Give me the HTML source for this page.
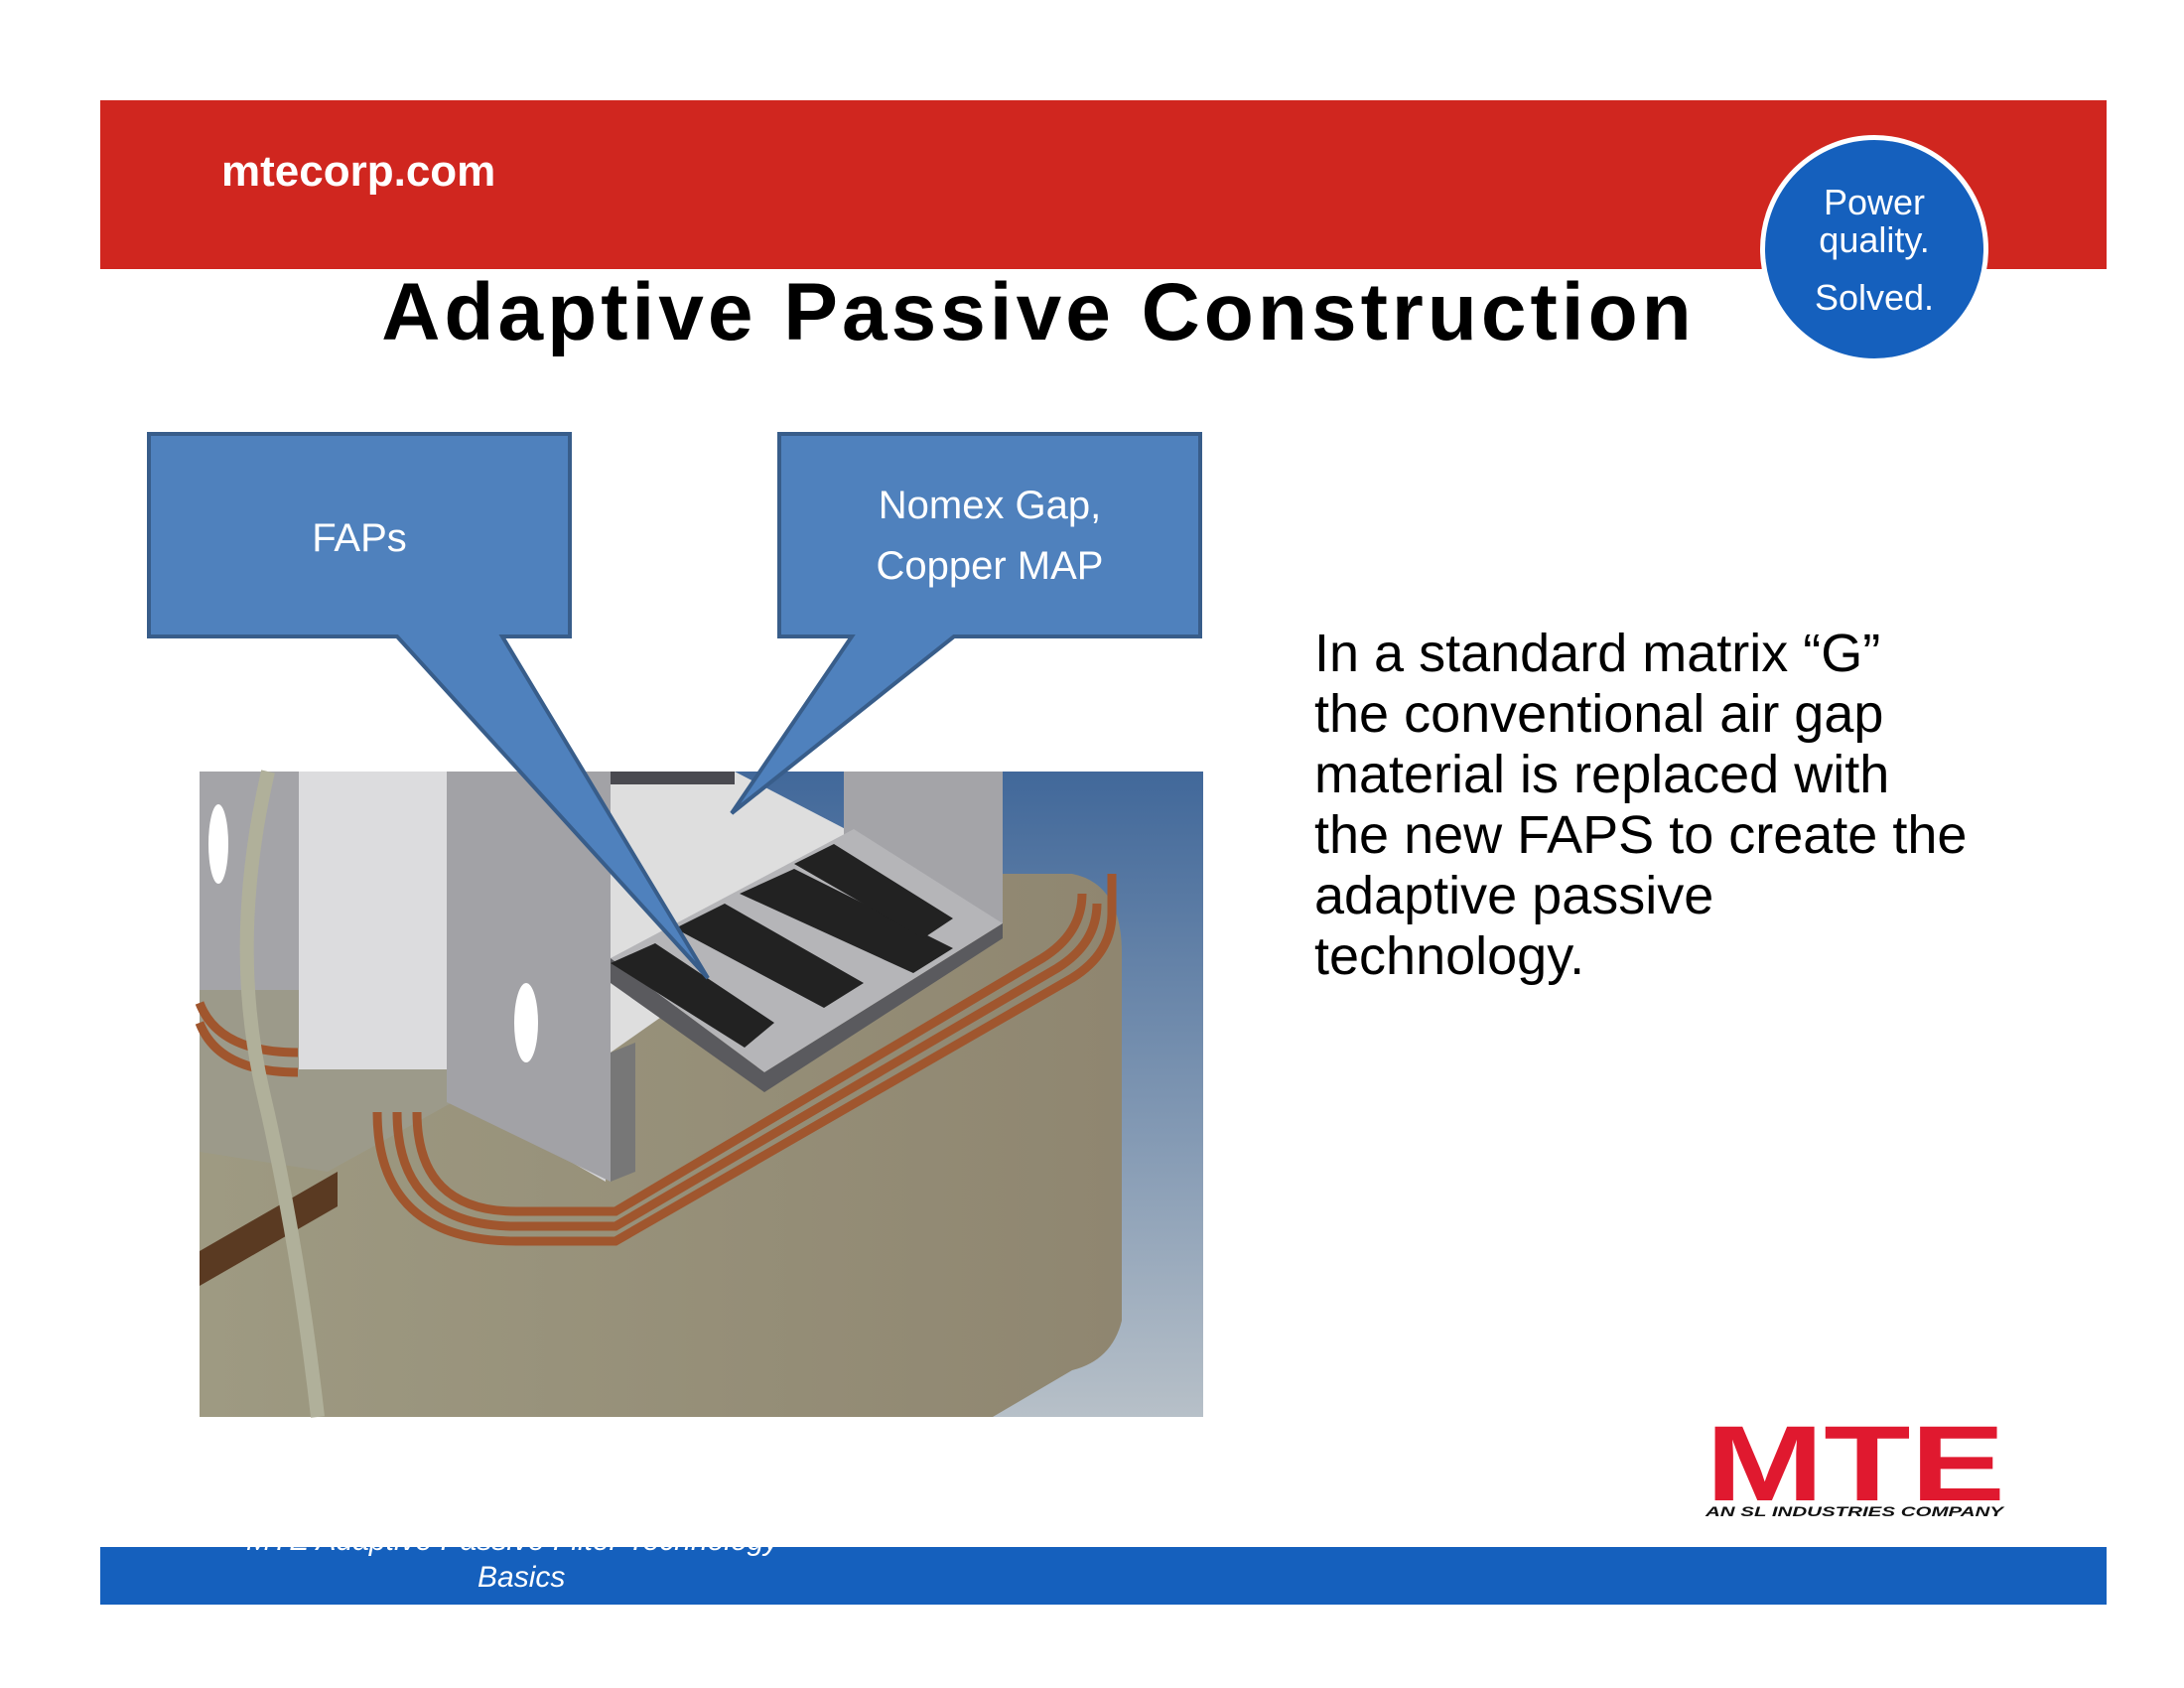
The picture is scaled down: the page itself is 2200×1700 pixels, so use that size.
<!DOCTYPE html>
<html><head><meta charset="utf-8"><style>
html,body{margin:0;padding:0;background:#fff;}
body{width:2200px;height:1700px;position:relative;overflow:hidden;font-family:"Liberation Sans",sans-serif;}
.red{position:absolute;left:101px;top:101px;width:2021px;height:170px;background:#d0261f;}
.url{position:absolute;left:223px;top:148px;color:#fff;font-weight:bold;font-size:44px;}
.circ{position:absolute;left:1773px;top:136px;width:230px;height:230px;border-radius:50%;background:#1560bd;border:5px solid #fff;box-sizing:border-box;color:#fff;text-align:center;font-size:36px;line-height:38px;}
.title{position:absolute;left:-10px;width:2112px;top:268px;text-align:center;font-weight:900;font-size:82px;letter-spacing:4px;color:#000;}
.body{position:absolute;left:1324px;top:628px;font-size:54px;line-height:61px;color:#000;}
.blue{position:absolute;left:101px;top:1558px;width:2021px;height:58px;background:#1560bd;overflow:hidden;}
.ft{position:absolute;color:#fff;font-style:italic;font-size:30px;}
</style></head><body>
<div class="red"></div>
<div class="url">mtecorp.com</div>
<div class="circ"><div style="padding-top:44px">Power<br>quality.</div><div style="margin-top:20px">Solved.</div></div>
<div class="title">Adaptive Passive Construction</div>

<svg style="position:absolute;left:0;top:0" width="2200" height="1700">
<defs>
<linearGradient id="bg" x1="0" y1="0" x2="0" y2="1"><stop offset="0" stop-color="#41689a"/><stop offset="1" stop-color="#b7c0c8"/></linearGradient>
<linearGradient id="core" x1="0" y1="0" x2="1" y2="0"><stop offset="0" stop-color="#9e9a82"/><stop offset="1" stop-color="#8f8670"/></linearGradient>
</defs>
<rect x="201" y="777" width="1011" height="650" fill="url(#bg)"/>
<rect x="201" y="777" width="420" height="650" fill="#9c9a8a"/>
<path d="M330 1180 L870 880 L1080 880 Q1130 890 1130 960 L1130 1330 Q1120 1370 1080 1380 L1000 1427 L201 1427 L201 1160 Z" fill="url(#core)"/>
<path d="M201 1260 L340 1180 L340 1215 L201 1295 Z" fill="#5a3a22"/>
<g fill="none" stroke="#a0562e" stroke-width="9">
<path d="M380 1120 Q380 1250 520 1250 L620 1250 L1080 985 Q1120 960 1120 920 L1120 880"/>
<path d="M400 1120 Q400 1235 520 1235 L620 1235 L1065 975 Q1105 950 1105 910"/>
<path d="M420 1120 Q420 1220 520 1220 L620 1220 L1050 965 Q1090 940 1090 900"/>
<path d="M201 1010 Q220 1060 300 1060"/>
<path d="M201 1030 Q220 1080 300 1080"/>
</g>
<rect x="301" y="777" width="150" height="300" fill="#dcdcde"/>
<path d="M451 777 L610 777 L610 1190 L451 1100 Z" fill="#d5d5d8"/>
<path d="M450 777 L615 777 L615 1190 L450 1110 Z" fill="#a2a2a6"/>
<path d="M615 777 L740 777 L900 860 L615 1060 Z" fill="#dedede"/>
<path d="M615 777 L740 777 L740 790 L615 790 Z" fill="#4a4a50"/>
<path d="M850 777 L1010 777 L1010 930 L850 930 Z" fill="#a4a4a8"/>
<rect x="201" y="777" width="100" height="220" fill="#a4a4a8"/>
<path d="M615 965 L860 835 L1010 930 L770 1080 Z" fill="#b5b5b8"/>
<path d="M615 990 L770 1100 L1010 945 L1010 930 L770 1080 L615 965 Z" fill="#5a5a5e"/>
<g fill="#222">
<path d="M615 970 L660 950 L780 1030 L750 1055 Z"/>
<path d="M680 935 L730 910 L870 990 L830 1015 Z"/>
<path d="M745 900 L800 875 L960 955 L920 980 Z"/>
<path d="M800 870 L840 850 L960 925 L930 945 Z"/>
</g>
<path d="M615 1060 L615 1190 L640 1180 L640 1050 Z" fill="#777"/>
<ellipse cx="530" cy="1030" rx="12" ry="40" fill="#fff"/>
<ellipse cx="220" cy="850" rx="10" ry="40" fill="#fff"/>
<path d="M270 777 Q230 950 265 1100 Q300 1250 320 1427" fill="none" stroke="#b0b09a" stroke-width="14"/>
<g fill="#4f81bd" stroke="#385d8a" stroke-width="4" stroke-linejoin="miter">
<path d="M150 437 L574 437 L574 641 L506 641 L713 985 L400 641 L150 641 Z"/>
<path d="M785 437 L1209 437 L1209 641 L961 641 L737 819 L858 641 L785 641 Z"/>
</g>
<g fill="#fff" font-family="Liberation Sans, sans-serif" font-size="40" text-anchor="middle">
<text x="362" y="555">FAPs</text>
<text x="997" y="522">Nomex Gap,</text>
<text x="997" y="583">Copper MAP</text>
</g>
<text x="1718" y="1511" font-family="Liberation Sans, sans-serif" font-weight="900" font-size="108" fill="#e0192f" textLength="302" lengthAdjust="spacingAndGlyphs">MTE</text>
<text x="1718" y="1527" font-family="Liberation Sans, sans-serif" font-weight="bold" font-style="italic" font-size="14" fill="#111" textLength="300" lengthAdjust="spacingAndGlyphs">AN SL INDUSTRIES COMPANY</text>
</svg>

<div class="body">In a standard matrix “G”<br>the conventional air gap<br>material is replaced with<br>the new FAPS to create the<br>adaptive passive<br>technology.</div>

<div class="blue">
<div class="ft" style="left:147px;top:-23px;">MTE Adaptive Passive Filter Technology</div>
<div class="ft" style="left:380px;top:14px;">Basics</div>
</div>
</body></html>
